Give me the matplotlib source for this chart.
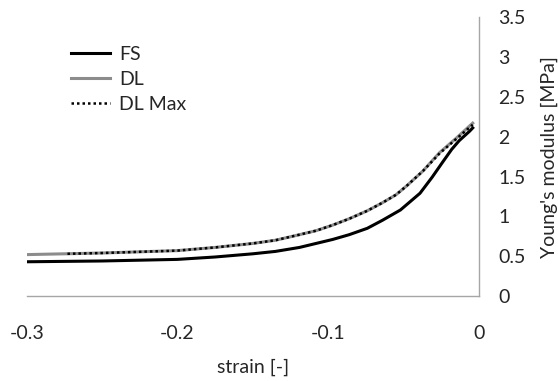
import matplotlib
matplotlib.use("Agg")
import matplotlib.pyplot as plt

plt.rcParams['font.family'] = ['Lato', 'DejaVu Sans']
plt.rcParams['axes.unicode_minus'] = False

# strain [-] and Young's modulus [MPa]
strain_fs = [-0.3, -0.25, -0.2, -0.175, -0.15, -0.135, -0.119, -0.108, -0.097, -0.086,
             -0.074, -0.064, -0.052, -0.039, -0.031, -0.024, -0.018, -0.013, -0.006, -0.004]
fs = [0.43, 0.44, 0.46, 0.49, 0.53, 0.56, 0.61, 0.66, 0.71, 0.77,
      0.85, 0.95, 1.08, 1.29, 1.49, 1.68, 1.84, 1.95, 2.07, 2.11]

strain_dl = [-0.3, -0.25, -0.2, -0.175, -0.15, -0.135, -0.119, -0.108, -0.097, -0.086,
             -0.074, -0.064, -0.055, -0.048, -0.037, -0.026, -0.015, -0.004]
dl = [0.52, 0.54, 0.57, 0.61, 0.66, 0.70, 0.77, 0.82, 0.89, 0.97,
      1.07, 1.17, 1.27, 1.38, 1.57, 1.80, 1.98, 2.17]

strain_dlmax = [-0.273, -0.25, -0.2, -0.175, -0.15, -0.135, -0.119, -0.108, -0.097, -0.086,
                -0.074, -0.064, -0.055, -0.048, -0.037, -0.026, -0.015, -0.004]
dlmax = [0.53, 0.54, 0.57, 0.61, 0.66, 0.70, 0.77, 0.82, 0.89, 0.97,
         1.07, 1.17, 1.27, 1.38, 1.57, 1.79, 1.97, 2.15]

xticks = [-0.3, -0.2, -0.1, 0]
xlabels = ['-0.3', '-0.2', '-0.1', '0']
yticks = [0, 0.5, 1, 1.5, 2, 2.5, 3, 3.5]
ylabels = ['0', '0.5', '1', '1.5', '2', '2.5', '3', '3.5']

txt = '#262626'
fig = plt.figure(figsize=(5.58, 3.81), dpi=100)
ax = fig.add_axes([0.048, 0.223, 0.81, 0.732])

ax.plot(strain_fs, fs, color='black', lw=2.2, label='FS')
ax.plot(strain_dl, dl, color='#8c8c8c', lw=2.2, label='DL')
ax.plot(strain_dlmax, dlmax, color='black', lw=1.8, ls=(0, (1, 1.2)), label='DL Max')

ax.set_xlim(-0.3, 0)
ax.set_ylim(0, 3.5)
for s in ['top', 'left']:
    ax.spines[s].set_visible(False)
for s in ['right', 'bottom']:
    ax.spines[s].set_color('#a6a6a6')
    ax.spines[s].set_linewidth(1)

ax.set_xticks(xticks)
ax.set_xticklabels(xlabels)
ax.set_yticks(yticks)
ax.set_yticklabels(ylabels)
ax.yaxis.tick_right()
ax.yaxis.set_label_position('right')
ax.tick_params(axis='x', length=0, pad=21, labelsize=14, labelcolor=txt)
ax.tick_params(axis='y', length=0, pad=14, labelsize=14, labelcolor=txt)

ax.set_xlabel('strain [-]', fontsize=14, color=txt, labelpad=12)
ax.set_ylabel("Young's modulus [MPa]", fontsize=14, color=txt, labelpad=11)

leg = ax.legend(loc='upper left', bbox_to_anchor=(0.06, 0.96), frameon=False,
                fontsize=14, handlelength=2.0, handletextpad=0.45, labelspacing=0.42,
                labelcolor=txt)

fig.savefig('out.png', dpi=100)
